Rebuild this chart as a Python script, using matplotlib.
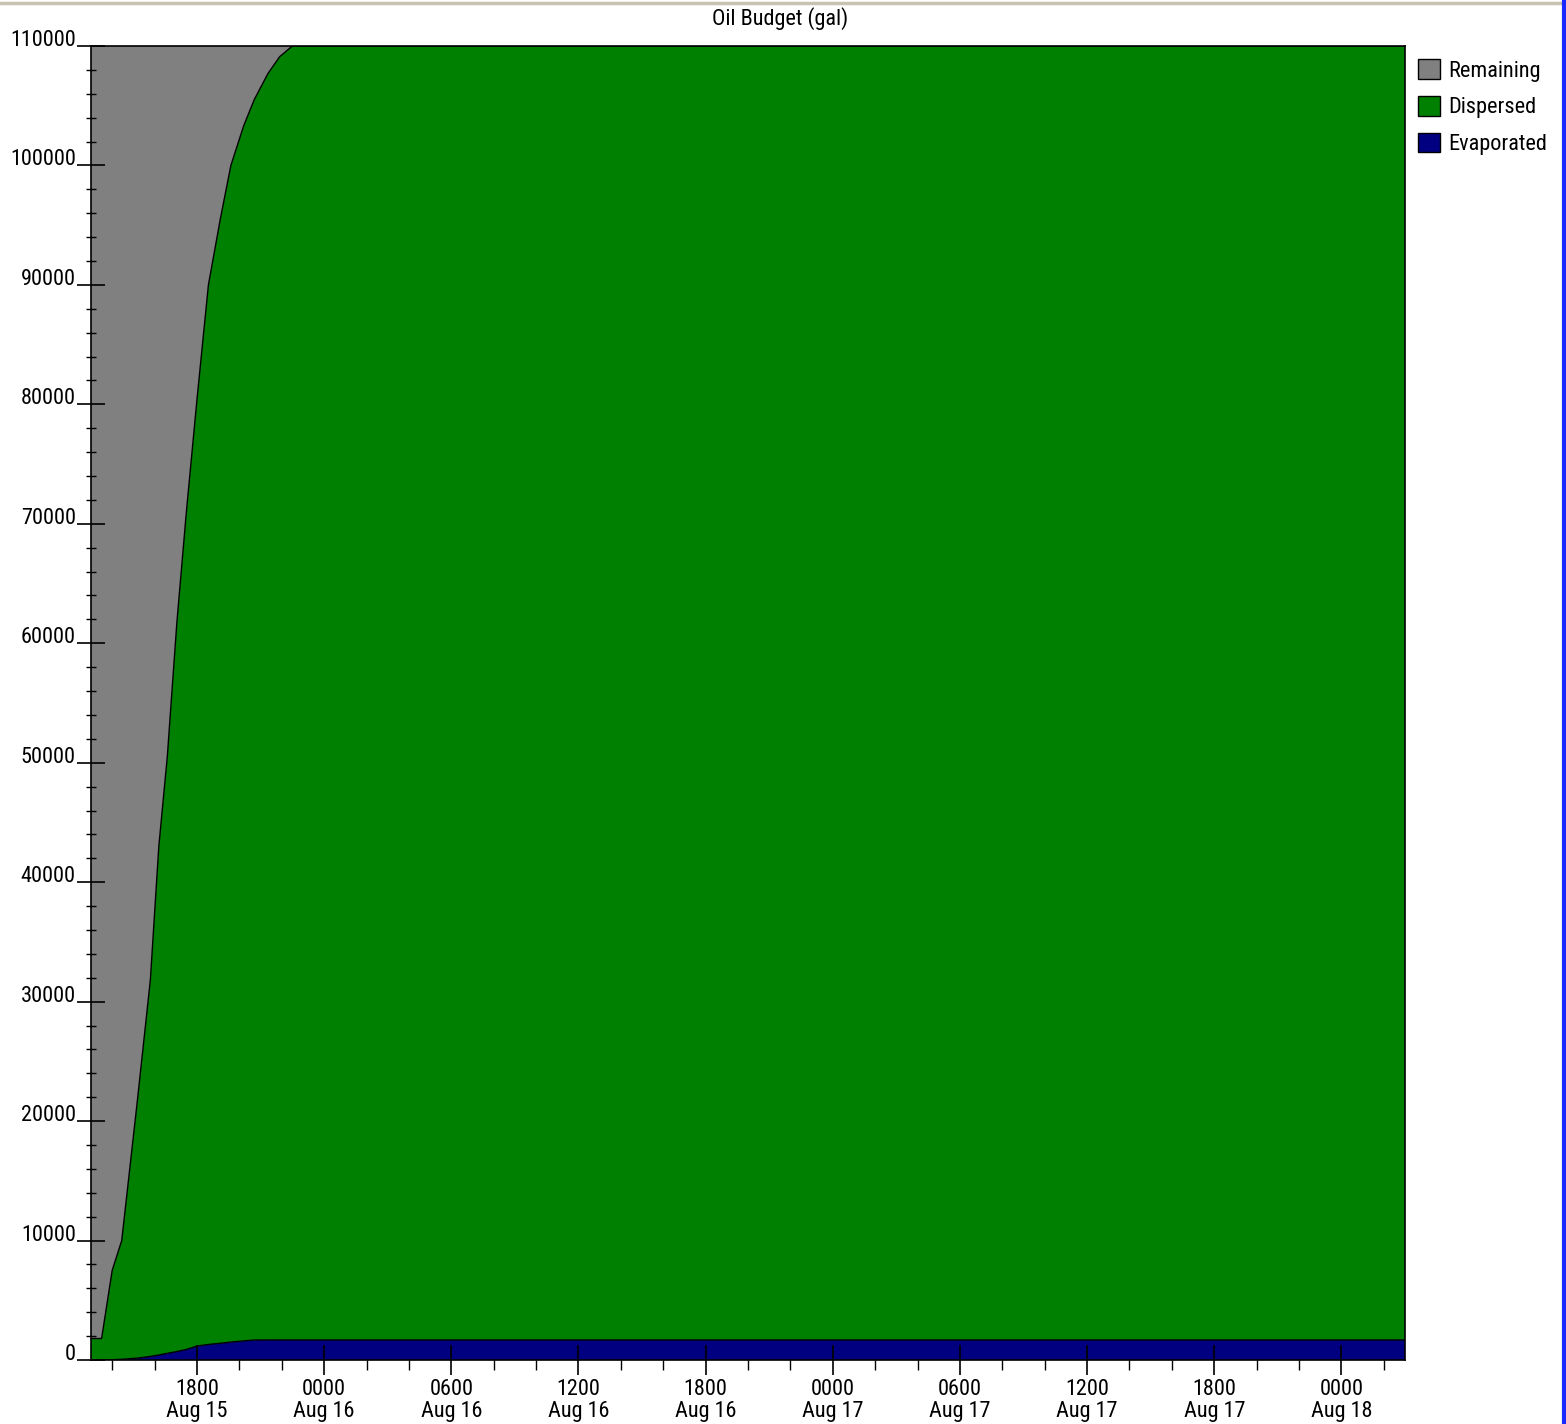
import matplotlib
matplotlib.use("Agg")
import matplotlib.pyplot as plt
from matplotlib import font_manager
from matplotlib.transforms import ScaledTranslation
from matplotlib.lines import Line2D
import numpy as np

# Hours since 1300 Aug 15
hours = [0, 0.5, 1.0, 1.45, 2.2, 2.8, 3.2, 3.6, 4.05, 4.5, 5.0, 5.54, 6.1, 6.6,
         7.2, 7.7, 8.35, 8.9, 9.5, 12, 62]
evaporated = [0, 5, 20, 60, 160, 300, 420, 560, 710, 880, 1170, 1300, 1400, 1500,
              1600, 1670, 1680, 1680, 1680, 1680, 1680]
dispersed = [1800, 1795, 7480, 9940, 21740, 31500, 42580, 49940, 60990, 70120, 79230,
             88700, 94100, 98500, 101700, 103830, 106020, 107420, 108320, 108320, 108320]
remaining = [108200, 108200, 102500, 100000, 88100, 78200, 67000, 59500, 48300, 39000,
             29600, 20000, 14500, 10000, 6700, 4500, 2300, 900, 0, 0, 0]

series_names = ["Evaporated", "Dispersed", "Remaining"]
series_colors = ["#000080", "#008000", "#808080"]

tick_hours = [5, 11, 17, 23, 29, 35, 41, 47, 53, 59]
tick_labels = ["1800\nAug 15", "0000\nAug 16", "0600\nAug 16", "1200\nAug 16",
               "1800\nAug 16", "0000\nAug 17", "0600\nAug 17", "1200\nAug 17",
               "1800\nAug 17", "0000\nAug 18"]
y_ticks = [0, 10000, 20000, 30000, 40000, 50000, 60000, 70000, 80000, 90000, 100000, 110000]

# choose a narrow font if one is installed
names = {f.name for f in font_manager.fontManager.ttflist}
FS = 14
fam = 'Liberation Sans'
for cand in ['Liberation Sans Narrow', 'DejaVu Sans Condensed', 'Roboto Condensed',
             'Open Sans Condensed', 'Arial Narrow']:
    if cand in names:
        fam = cand
        FS = 16
        break
stretch = 'normal'
if fam == 'Liberation Sans':
    for f in font_manager.fontManager.ttflist:
        if f.name in ('DejaVu Sans', 'Roboto', 'Open Sans') and str(f.stretch) in ('condensed', 'semi-condensed', '75', '87'):
            fam = f.name
            stretch = f.stretch
            FS = 16
            break
plt.rcParams['font.family'] = [fam, 'Liberation Sans', 'DejaVu Sans']
plt.rcParams['font.stretch'] = stretch

W, H = 1566, 1424
fig = plt.figure(figsize=(W / 100, H / 100), dpi=100)
ax = fig.add_axes([91 / W, (H - 1360) / H, (1405 - 91) / W, (1360 - 46) / H])

polys = ax.stackplot(hours, evaporated, dispersed, remaining,
                     colors=series_colors, labels=series_names,
                     edgecolor="none", linewidth=0)
bottom = np.array(evaporated)
mid = bottom + np.array(dispersed)
ax.plot(hours, bottom, color="black", lw=1.0)
ax.plot(hours, mid, color="black", lw=1.0)

ax.set_xlim(0, 62)
ax.set_ylim(0, 110000)

ax.set_xticks(tick_hours)
ax.set_xticklabels(tick_labels, fontsize=FS, linespacing=1.05)
ax.set_xticks(np.arange(1, 62, 2), minor=True)
ax.set_yticks(y_ticks)
ax.set_yticklabels([str(v) for v in y_ticks], fontsize=FS)
ax.set_yticks(np.arange(0, 110001, 2000), minor=True)

ax.tick_params(axis='x', which='major', direction='inout', length=22, width=1.2, pad=3)
ax.tick_params(axis='x', which='minor', direction='out', length=7, width=1.0)
ax.tick_params(axis='y', which='major', direction='inout', length=20, width=1.2, pad=1)
ax.tick_params(axis='y', which='minor', direction='inout', length=7, width=1.0)

off = ScaledTranslation(0, 8 / 100, fig.dpi_scale_trans)
for lab in ax.get_yticklabels():
    lab.set_transform(lab.get_transform() + off)

for s in ax.spines.values():
    s.set_color("black")
    s.set_linewidth(1.2)

fig.text(780 / W, 1 - 19 / H, "Oil Budget (gal)", ha="center", va="center", fontsize=FS)

handles, labels = ax.get_legend_handles_labels()
fig.legend(handles[::-1], labels[::-1], loc="upper left",
           bbox_to_anchor=(1418 / W, 1 - 59 / H), frameon=False, fontsize=FS,
           borderpad=0, borderaxespad=0,
           handlelength=1.4 if FS == 14 else 1.0, handleheight=1.4 if FS == 14 else 1.0,
           handletextpad=0.4 if FS == 14 else 0.35,
           labelspacing=0.95 if FS == 14 else 0.64)
for h in fig.legends[0].legend_handles:
    h.set_edgecolor("black")
    h.set_linewidth(1.0)

# window borders
fig.add_artist(Line2D([0, 1], [1 - 3 / H, 1 - 3 / H], transform=fig.transFigure,
                      color="#c8c2b0", lw=2.5))
fig.add_artist(Line2D([1 - 2.5 / W, 1 - 2.5 / W], [0, 1], transform=fig.transFigure,
                      color="#1a2aff", lw=3))

fig.savefig("out.png", dpi=100, facecolor="white")
